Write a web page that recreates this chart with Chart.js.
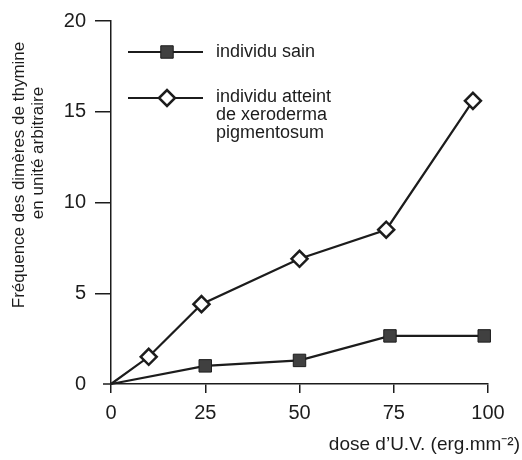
<!DOCTYPE html>
<html>
<head>
<meta charset="utf-8">
<script src="https://cdn.jsdelivr.net/npm/chart.js"></script>
<style>
  html, body { margin: 0; padding: 0; background: #fff; }
  #wrap { width: 522px; height: 460px; }
</style>
</head>
<body>
<div id="wrap"><canvas id="graf"></canvas></div>
<script>
// --- DONNÉES ---
const doseSain = [0, 25, 50, 74, 99];
const freqSain = [0, 1.0, 1.3, 2.65, 2.65];
const doseXP = [0, 10, 24, 50, 73, 96];
const freqXP = [0, 1.5, 4.4, 6.9, 8.5, 15.6];
const legendes = [['individu sain'], ['individu atteint', 'de xeroderma', 'pigmentosum']];
const titreY = ['Fréquence des dimères de thymine', 'en unité arbitraire'];
const titreX = 'dose d’U.V. (erg.mm⁻²)';

const encre = '#1c1c1c';
const police = '"Liberation Sans", Arial, sans-serif';

const pts = (xs, ys) => xs.map((x, i) => ({ x, y: ys[i] }));

// --- LÉGENDE, TITRES D'AXES ---
const decor = {
  id: 'decor',
  afterDraw(chart) {
    const { ctx, chartArea: a } = chart;
    ctx.save();
    // l'axe des x dépasse un peu à gauche de l'axe des y
    ctx.strokeStyle = encre;
    ctx.lineWidth = 1.5;
    ctx.beginPath();
    ctx.moveTo(a.left - 8, a.bottom);
    ctx.lineTo(a.left, a.bottom);
    ctx.stroke();

    ctx.fillStyle = encre;
    ctx.font = '19px ' + police;
    ctx.textAlign = 'right';
    ctx.textBaseline = 'alphabetic';
    ctx.fillText(titreX, 520, 450);

    // titre vertical sur deux lignes
    ctx.font = '17px ' + police;
    ctx.textAlign = 'center';
    ctx.textBaseline = 'middle';
    [[19, 175], [38, 153]].forEach(([x, y], i) => {
      ctx.save();
      ctx.translate(x, y);
      ctx.rotate(-Math.PI / 2);
      ctx.fillText(titreY[i], 0, 0);
      ctx.restore();
    });

    // légende
    ctx.font = '18px ' + police;
    const lignesY = [52, 98];
    const bases = [[57], [101.5, 119.5, 137.5]];
    chart.data.datasets.forEach((ds, i) => {
      const y = lignesY[i];
      ctx.strokeStyle = ds.borderColor;
      ctx.lineWidth = ds.borderWidth;
      ctx.beginPath();
      ctx.moveTo(128, y);
      ctx.lineTo(203, y);
      ctx.stroke();
      ctx.fillStyle = ds.pointBackgroundColor;
      ctx.strokeStyle = ds.pointBorderColor;
      ctx.lineWidth = ds.pointBorderWidth;
      Chart.helpers.drawPoint(ctx, {
        pointStyle: ds.pointStyle, rotation: 0,
        radius: ds.pointRadius[1], borderWidth: ds.pointBorderWidth
      }, 167, y);
      ctx.fillStyle = encre;
      ctx.textAlign = 'left';
      ctx.textBaseline = 'alphabetic';
      legendes[i].forEach((t, k) => ctx.fillText(t, 216, bases[i][k]));
    });
    ctx.restore();
  }
};

new Chart(document.getElementById('graf'), {
  type: 'line',
  data: {
    datasets: [
      {
        label: legendes[0].join(' '),
        data: pts(doseSain, freqSain),
        borderColor: encre,
        borderWidth: 2.2,
        pointStyle: 'rect',
        pointRadius: [0, 8.8, 8.8, 8.8, 8.8],
        pointBackgroundColor: '#404040',
        pointBorderColor: encre,
        pointBorderWidth: 1,
        tension: 0
      },
      {
        label: legendes[1].join(' '),
        data: pts(doseXP, freqXP),
        borderColor: encre,
        borderWidth: 2.2,
        pointStyle: 'rectRot',
        pointRadius: [0, 8, 8, 8, 8, 8],
        pointBackgroundColor: '#ffffff',
        pointBorderColor: encre,
        pointBorderWidth: 2.5,
        tension: 0
      }
    ]
  },
  options: {
    responsive: true,
    maintainAspectRatio: false,
    animation: false,
    clip: false,
    layout: { padding: { left: 0, top: 20, right: 34, bottom: 0 } },
    plugins: { legend: { display: false }, tooltip: { enabled: false } },
    scales: {
      x: {
        type: 'linear',
        min: 0, max: 100,
        afterFit: s => { s.height = 76; },
        ticks: { stepSize: 25, color: encre, padding: 8, font: { family: police, size: 20 } },
        grid: { drawOnChartArea: false, tickLength: 9, color: encre, lineWidth: 1.5 },
        border: { color: encre, width: 1.5 }
      },
      y: {
        min: 0, max: 20,
        afterFit: s => { s.width = 111; },
        ticks: { stepSize: 5, color: encre, padding: 9, font: { family: police, size: 20 } },
        grid: {
          drawOnChartArea: false, tickLength: 16, lineWidth: 1.5,
          color: c => (c.tick && c.tick.value === 0 ? 'rgba(0,0,0,0)' : encre)
        },
        border: { color: encre, width: 1.5 }
      }
    }
  },
  plugins: [decor]
});
</script>
</body>
</html>
